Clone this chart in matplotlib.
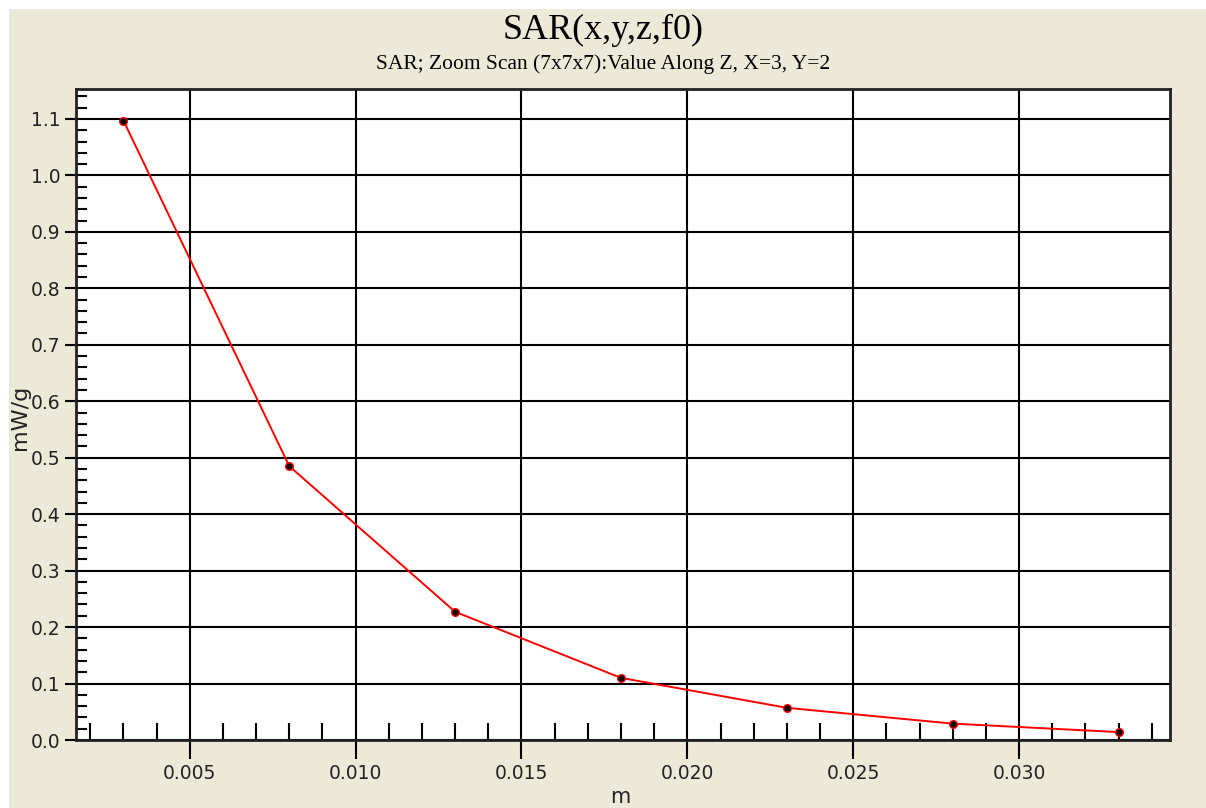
import numpy as np
import matplotlib
matplotlib.use("Agg")
import matplotlib.pyplot as plt
from matplotlib.ticker import MultipleLocator
from matplotlib.patches import Rectangle

# valores
z_m = [0.003, 0.008, 0.013, 0.018, 0.023, 0.028, 0.033]
sar = [1.097, 0.485, 0.227, 0.110, 0.057, 0.029, 0.014]

titulo = "SAR(x,y,z,f0)"
subtitulo = "SAR; Zoom Scan (7x7x7):Value Along Z, X=3, Y=2"

fundo = "#ECE9D8"

fig = plt.figure(figsize=(12.06, 8.08), dpi=100, facecolor="white")
# faixa branca em cima e na esquerda
fig.patches.append(Rectangle((9 / 1206, 0), 1, 1 - 9 / 808, transform=fig.transFigure,
                             facecolor=fundo, edgecolor="none", zorder=-10))

ax = fig.add_axes([76 / 1206, 1 - 740 / 808, (1170 - 76) / 1206, (740 - 89) / 808])
ax.set_facecolor("white")

ax.plot(z_m, sar, color="red", lw=1.4, zorder=3)
ax.plot(z_m, sar, "o", ms=5.5, mfc="black", mec="red", mew=1.0, zorder=4)

ax.set_xlim(0.00157, 0.03455)
ax.set_ylim(0.0, 1.153)

ax.xaxis.set_major_locator(MultipleLocator(0.005))
ax.xaxis.set_minor_locator(MultipleLocator(0.001))
ax.yaxis.set_major_locator(MultipleLocator(0.1))
ax.yaxis.set_minor_locator(MultipleLocator(0.02))
ax.xaxis.set_major_formatter(plt.FuncFormatter(lambda v, p: f"{v:.3f}"))
ax.yaxis.set_major_formatter(plt.FuncFormatter(lambda v, p: f"{v:.1f}"))

ax.grid(True, which="major", color="black", lw=1.5)
ax.tick_params(which="major", direction="out", length=8, width=1.5, color="black",
               labelsize=13.5, pad=3, labelcolor="#222222")
ax.tick_params(axis="x", which="major", length=14)
ax.tick_params(which="minor", direction="in", length=8, width=1.5, color="black")
ax.tick_params(axis="x", which="minor", length=12)
for s in ax.spines.values():
    s.set_linewidth(2)
    s.set_color("#222222")

fig.text(0.5, 1 - 30 / 808, titulo, ha="center", va="center",
         family="Liberation Serif", fontsize=26)
fig.text(0.5, 1 - 64 / 808, subtitulo, ha="center", va="center",
         family="Liberation Serif", fontsize=15.5)

fig.text(20 / 1206, 1 - 417 / 808, "mW/g", rotation=90, ha="center", va="center",
         fontsize=16, color="#222222")
fig.text(620 / 1206, 1 - 797 / 808, "m", ha="center", va="center", fontsize=15,
         color="#222222")

fig.savefig("out.png", dpi=100, facecolor=fig.get_facecolor())
